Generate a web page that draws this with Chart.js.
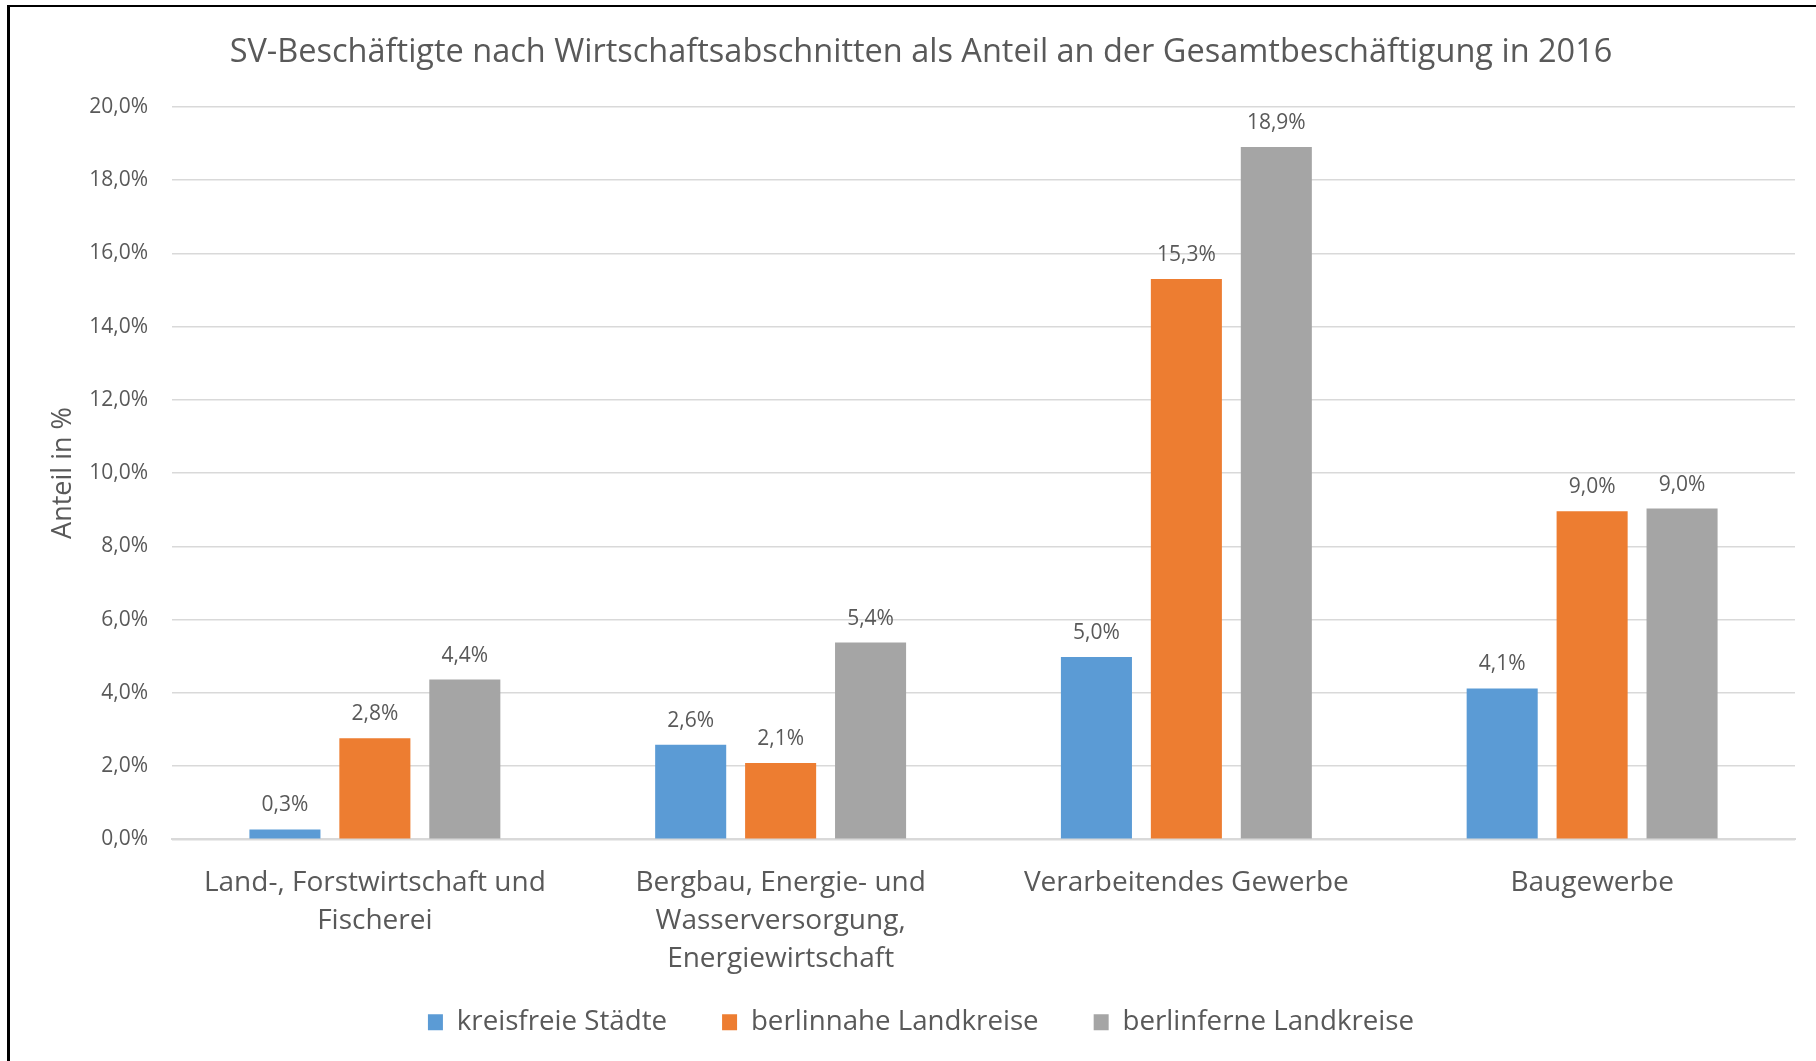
<!DOCTYPE html>
<html>
<head>
<meta charset="utf-8">
<script src="https://cdn.jsdelivr.net/npm/chart.js@4.4.1/dist/chart.umd.min.js"></script>
<style>
  html, body { margin: 0; padding: 0; background: #fff; overflow: hidden; }
  #wrap { position: absolute; left: 0; top: 0; width: 1816px; height: 1061px; }
  #frame { position: absolute; left: 7px; top: 5px; width: 2000px; height: 2000px;
           border-left: 3px solid #000; border-top: 2px solid #000; pointer-events: none; }
</style>
</head>
<body>
<div id="wrap">
  <canvas id="chart" width="1816" height="1061"></canvas>
  <div id="frame"></div>
</div>
<script>
const kategorien = [
  ["Land-, Forstwirtschaft und", "Fischerei"],
  ["Bergbau, Energie- und", "Wasserversorgung,", "Energiewirtschaft"],
  "Verarbeitendes Gewerbe",
  "Baugewerbe",
];
const serien = ["kreisfreie Städte", "berlinnahe Landkreise", "berlinferne Landkreise"];
const kreisfreie = [0.27, 2.58, 4.98, 4.12];
const berlinnahe = [2.76, 2.08, 15.3, 8.96];
const berlinferne = [4.36, 5.37, 18.9, 9.03];
const farben = ["#5b9bd5", "#ed7d31", "#a5a5a5"];

const schrift = "'Open Sans', 'DejaVu Sans', sans-serif";
const textFarbe = "#595959";
const fmt = v => v.toFixed(1).replace(".", ",") + "%";

// Werte über den Balken
const wertLabels = {
  id: "wertLabels",
  afterDatasetsDraw(chart) {
    const ctx = chart.ctx;
    ctx.save();
    ctx.font = "21px " + schrift;
    ctx.fillStyle = textFarbe;
    ctx.textAlign = "center";
    ctx.textBaseline = "middle";
    chart.data.datasets.forEach((ds, i) => {
      chart.getDatasetMeta(i).data.forEach((bar, j) => {
        ctx.fillText(fmt(ds.data[j]), bar.x, bar.y - 24);
      });
    });
    ctx.restore();
  }
};

// die dreizeilige Kategorie ragt in den Legendenbereich, sonst wird sie abgeschnitten
const labelPlatz = {
  id: "labelPlatz",
  afterLayout(chart) { chart.scales.x.bottom += 50; }
};

new Chart(document.getElementById("chart"), {
  type: "bar",
  data: {
    labels: kategorien,
    datasets: [kreisfreie, berlinnahe, berlinferne].map((d, i) => ({
      label: serien[i],
      data: d,
      backgroundColor: farben[i],
      categoryPercentage: 0.665,
      barPercentage: 0.79,
    }))
  },
  options: {
    responsive: false,
    animation: false,
    layout: { padding: { left: 47, right: 21, top: 18, bottom: 15 } },
    plugins: {
      title: {
        display: true,
        text: "SV-Beschäftigte nach Wirtschaftsabschnitten als Anteil an der Gesamtbeschäftigung in 2016",
        color: textFarbe,
        font: { family: schrift, size: 32.5, weight: "normal" },
        padding: { top: 15.5, bottom: 34.3 },
      },
      legend: {
        position: "bottom",
        labels: {
          color: textFarbe,
          font: { family: schrift, size: 27.7 },
          boxWidth: 15,
          boxHeight: 16,
          padding: 55,
        }
      },
      tooltip: { enabled: false },
    },
    scales: {
      x: {
        grid: { display: false },
        border: { color: "#d9d9d9", width: 2 },
        ticks: {
          color: textFarbe,
          font: { family: schrift, size: 28, lineHeight: 1.36 },
          padding: 17,
          maxRotation: 0,
          autoSkip: false,
        },
        afterFit(scale) { scale.height = 114; },
      },
      y: {
        min: 0,
        max: 20,
        grid: { color: "#d9d9d9", lineWidth: 1.5, drawTicks: false },
        border: { display: false },
        ticks: {
          stepSize: 2,
          color: textFarbe,
          font: { family: schrift, size: 21 },
          padding: 24,
          callback: v => fmt(v),
        },
        title: {
          display: true,
          text: "Anteil in %",
          color: textFarbe,
          font: { family: schrift, size: 27 },
          padding: { top: 0, bottom: 0 },
        },
        afterFit(scale) { scale.width = 125; },
      }
    }
  },
  plugins: [wertLabels, labelPlatz]
});
</script>
</body>
</html>
